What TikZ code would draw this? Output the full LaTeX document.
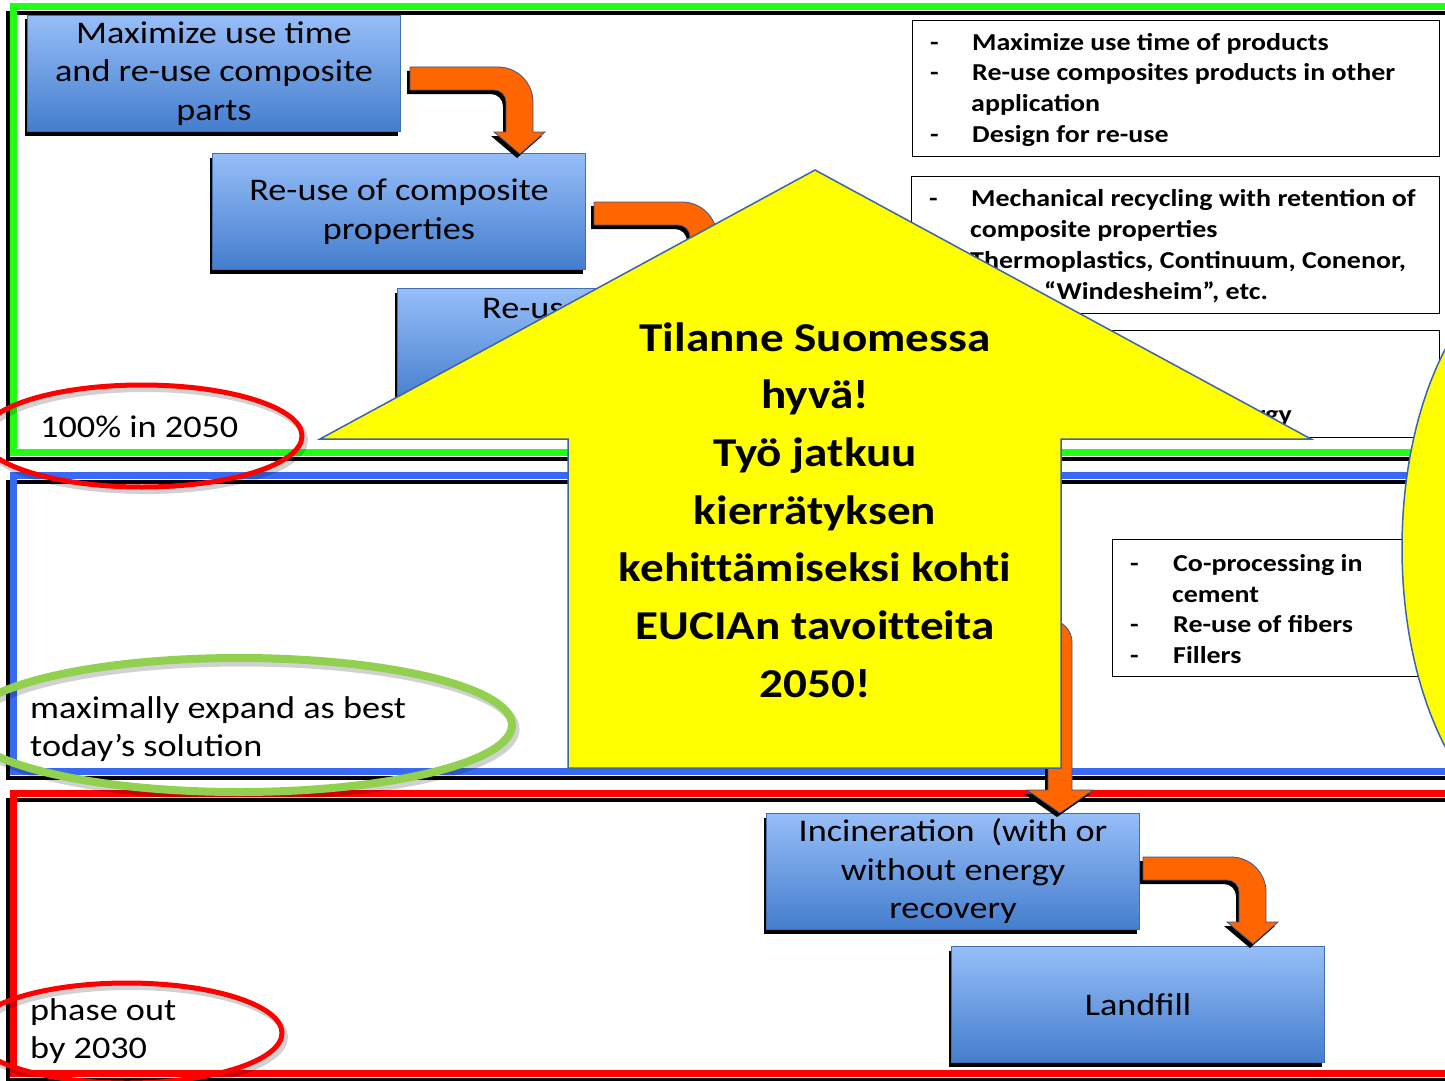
\documentclass[tikz,border=0pt]{standalone}
\usepackage{fontspec}
\setmainfont[FakeStretch=1.15]{Carlito}
\usetikzlibrary{shadows,calc}
\definecolor{pgreen}{RGB}{30,255,20}
\definecolor{pblue}{RGB}{55,105,245}
\definecolor{pred}{RGB}{255,0,0}
\definecolor{boxtop}{RGB}{150,190,248}
\definecolor{boxbot}{RGB}{68,125,205}
\definecolor{boxedge}{RGB}{65,110,175}
\definecolor{orng}{RGB}{255,102,0}
\definecolor{arrowedge}{RGB}{55,85,140}
\definecolor{yel}{RGB}{255,255,0}
\definecolor{yedge}{RGB}{60,100,170}
\definecolor{ellgreen}{RGB}{146,208,80}
\begin{document}
\begin{tikzpicture}[x=1pt,y=-1pt,
  bbox/.style={draw=boxedge, line width=1pt, top color=boxtop, bottom color=boxbot,
    minimum width=373pt, minimum height=116pt, inner sep=0pt, anchor=north west,
    align=center, font=\fontsize{31.5}{38.5}\selectfont,
    drop shadow={shadow xshift=-3pt, shadow yshift=-4pt, opacity=1, fill=black}},
  boxtxt/.style={inner sep=0pt, font=\fontsize{31.5}{38.5}\selectfont},
  tbox/.style={draw=black, line width=1.2pt, fill=white, inner sep=0pt, anchor=north west},
  btext/.style={align=left, inner sep=0pt, font=\bfseries\fontsize{24.3}{30.7}\selectfont},
  lbl/.style={align=left, inner sep=0pt, font=\fontsize{31.5}{38}\selectfont},
  arrowst/.style={fill=orng, draw=arrowedge, line width=0.8pt,
    drop shadow={shadow xshift=-3pt, shadow yshift=-4pt, opacity=1, fill=black}},
  bentarr/.pic={
    \draw[arrowst] (0,0) -- (88,0) .. controls (107.3,0) and (123,15.7) .. (123,35)
      -- (123,65) -- (135,65) -- (110,87) -- (84,65) -- (96,65) -- (96,35)
      .. controls (96,28.4) and (90.6,23) .. (84,23) -- (0,23) -- cycle;
  },
  ringshadow/.style={draw=black, opacity=0.18},
]
\useasboundingbox (0,0) rectangle (1445,1081);
\clip (0,0) rectangle (1445,1081);
\fill[white] (0,0) rectangle (1445,1081);

% ---- panels ----
\fill[white] (13,7) rectangle (1470,452);
\draw[black, line width=4pt] (8,13) rectangle (1470,459);
\draw[pgreen, line width=7pt] (13,7) rectangle (1470,452);

\fill[white] (13,475) rectangle (1470,771);
\draw[black, line width=4pt] (8,481.5) rectangle (1470,778);
\draw[pblue, line width=7pt] (13,475) rectangle (1470,771);

\fill[white] (13,793.5) rectangle (1470,1073.5);
\draw[black, line width=4pt] (8,800) rectangle (1470,1080);
\draw[pred, line width=7pt] (13,793.5) rectangle (1470,1073.5);

% ---- bullet text boxes ----
\node[tbox, minimum width=527pt, minimum height=136pt] (tb1) at (912,20) {};
\node[btext, anchor=west] (tb1t) at ($(tb1.west)+(18,1)$)
  {\makebox[42pt][l]{-}Maximize use time of products\\
   \makebox[42pt][l]{-}Re-use composites products in other\\
   \hspace*{41pt}application\\
   \makebox[42pt][l]{-}Design for re-use};

\node[tbox, minimum width=528pt, minimum height=137pt] (tb2) at (911,176) {};
\node[btext, anchor=west] (tb2t) at ($(tb2.west)+(18,1)$)
  {\makebox[42pt][l]{-}Mechanical recycling with retention of\\
   \hspace*{41pt}composite properties\\
   \hspace*{41pt}Thermoplastics, Continuum, Conenor,\\
   \hspace*{115pt}“Windesheim”, etc.};

\node[tbox, minimum width=528pt, minimum height=107pt] (tb3) at (911,330) {};
\node[btext, anchor=base east] (tb3t) at (1292,422) {energy};

\node[tbox, minimum width=345pt, minimum height=137pt] (tb4) at (1112,539) {};
\node[btext, anchor=west] (tb4t) at ($(tb4.west)+(18,1)$)
  {\makebox[43pt][l]{-}Co-processing in\\
   \hspace*{42pt}cement\\
   \makebox[43pt][l]{-}Re-use of fibers\\
   \makebox[43pt][l]{-}Fillers};

% ---- process boxes ----
\node[bbox] (maxuse) at (27,15) {\raisebox{-2pt}{\parbox{373pt}{\centering Maximize use time\\and re-use composite\\parts}}};
\node[bbox] (reprop) at (212,153) {Re-use of composite\\properties};
\node[bbox] (reuse3) at (397,288) {};
\node[boxtxt, anchor=base west] (reuse3t) at (482,318) {Re-use};
\node[bbox] (incin) at (766,813) {Incineration\ \ (with or\\without energy\\recovery};
\node[bbox] (landfill) at (951,946) {Landfill};

% ---- orange bent arrows ----
\pic at ($(maxuse.north east)+(9,52)$) {bentarr};
\pic at ($(reprop.north east)+(8,49)$) {bentarr};
\pic at ($(incin.north east)+(3,44)$) {bentarr};

\coordinate (dstart) at (930,620);
\coordinate (dtip) at ($(incin.north)+(107,0)$);
\draw[arrowst] (dstart) -- (1050,620) .. controls (1062,620) and (1072,630) .. (1072,642)
  -- (1072,790) -- (1093,790) -- (dtip) -- (1027,790) -- (1048,790) -- (1048,643)
  -- (930,643) -- cycle;

% ---- annotation rings ----
\draw[ringshadow, line width=6pt] (145,440) ellipse [x radius=160, y radius=51];
\draw[pred, line width=5pt] (142,436) ellipse [x radius=160, y radius=51];
\node[lbl, anchor=west] (l2050) at (40,427) {100\% in 2050};

\draw[ringshadow, line width=9pt] (242,729) ellipse [x radius=273, y radius=67];
\draw[ellgreen, line width=8pt] (239,725) ellipse [x radius=273, y radius=67];
\node[lbl, anchor=west] (lbest) at (30,729) {maximally expand as best\\today’s solution};

\draw[ringshadow, line width=6pt] (130,1037) ellipse [x radius=155, y radius=50];
\draw[pred, line width=5pt] (127,1033) ellipse [x radius=155, y radius=50];
\node[lbl, anchor=west] (l2030) at (30,1031) {phase out\\by 2030};

% ---- big yellow arrow ----
\draw[fill=yel, draw=yedge, line width=1.5pt] (815,170) -- (1311,439) -- (1061,439)
  -- (1061,768) -- (568,768) -- (568,439) -- (320,439) -- cycle;
\node[align=center, inner sep=0pt, font=\bfseries\fontsize{41}{57.7}\selectfont\addfontfeatures{Ligatures=CommonOff}] (ytext) at (815,510)
  {Tilanne Suomessa\\hyvä!\\Työ jatkuu\\kierrätyksen\\kehittämiseksi kohti\\EUCIAn tavoitteita\\2050!};

% ---- yellow ellipse at right ----
\draw[fill=yel, draw=yedge, line width=1.5pt] (1552,548) ellipse [x radius=150, y radius=283];
\end{tikzpicture}
\end{document}
